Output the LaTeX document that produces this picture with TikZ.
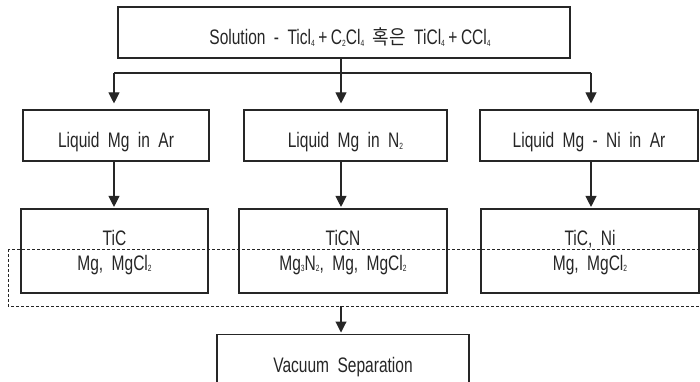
\documentclass[tikz,border=0pt]{standalone}
\usepackage{fontspec}
\setmainfont{Liberation Sans}[FakeStretch=0.74, WordSpace=1.95]
\newfontfamily\kr{Noto Sans CJK KR}[FakeStretch=0.9]
\usetikzlibrary{arrows.meta}
\newcommand\sbx[1]{\raisebox{-0.1ex}{\fontsize{9}{9}\selectfont #1}}
\definecolor{ink}{HTML}{262626}
\begin{document}
\begin{tikzpicture}[x=1pt,y=-1pt,
  box/.style={draw=ink, line width=1.1pt, inner sep=0pt},
  lbl/.style={text=ink, font=\fontsize{21}{24}\selectfont, inner sep=0pt, anchor=base},
  conn/.style={draw=ink, line width=1.1pt},
  arr/.style={conn, -{Triangle[length=11pt,width=11pt]}},
  dash box/.style={draw=ink, line width=1pt, dash pattern=on 3pt off 2pt}]
\clip (0,0) rectangle (700,382);
\useasboundingbox (0,0) rectangle (700,382);
% boxes
\node[box, minimum width=452pt, minimum height=51pt] (top) at (344,32.5) {};
\node[box, minimum width=186pt, minimum height=51pt] (a2) at (116,135.5) {};
\node[box, minimum width=203pt, minimum height=51pt] (b2) at (345.5,135.5) {};
\node[box, minimum width=218pt, minimum height=51pt] (c2) at (589,135.5) {};
\node[box, minimum width=187pt, minimum height=84pt] (a3) at (114.5,251) {};
\node[box, minimum width=208pt, minimum height=84pt] (b3) at (343,251) {};
\node[box, minimum width=218pt, minimum height=84pt] (c3) at (590,251) {};
\node[box, minimum width=252pt, minimum height=61pt, anchor=north] (vac) at (343,334) {};
% labels
\node[lbl] (topt) at (350,45)
  {Solution - Ticl\sbx{4}\,+\,C\sbx{2}Cl\sbx{4} {\kr\fontsize{20}{22}\selectfont 혹은} TiCl\sbx{4}\,+\,CCl\sbx{4}};
\node[lbl] (a2t) at (116,148) {Liquid Mg in Ar};
\node[lbl] (b2t) at (345.5,148) {Liquid Mg in N\sbx{2}};
\node[lbl] (c2t) at (589,148) {Liquid Mg - Ni in Ar};
\node[lbl] (a3t) at (114.5,245) {TiC};
\node[lbl] (a3b) at (114.5,270) {Mg, MgCl\sbx{2}};
\node[lbl] (b3t) at (343,245) {TiCN};
\node[lbl] (b3b) at (343,270) {Mg\sbx{3}N\sbx{2}, Mg, MgCl\sbx{2}};
\node[lbl] (c3t) at (590,245) {TiC, Ni};
\node[lbl] (c3b) at (590,270) {Mg, MgCl\sbx{2}};
\node[lbl] (vact) at (343,372) {Vacuum Separation};
% dashed group
\draw[dash box] (8,249) coordinate (dTL) rectangle (712,306) coordinate (dBR);
% connectors
\coordinate (jL) at (114,73);
\coordinate (jC) at (341,73);
\coordinate (jR) at (591,73);
\draw[conn] (jL) -- (jR);
\draw[conn] (top.south -| jC) -- (jC);
\draw[arr, shorten >=6pt] (jL) -- (jL |- a2.north);
\draw[arr, shorten >=6pt] (jC) -- (jC |- b2.north);
\draw[arr, shorten >=6pt] (jR) -- (jR |- c2.north);
\draw[arr, shorten >=1.5pt] (a2.south -| jL) -- (a3.north -| jL);
\draw[arr, shorten >=1.5pt] (b2.south -| jC) -- (b3.north -| jC);
\draw[arr, shorten >=1.5pt] (c2.south -| jR) -- (c3.north -| jR);
\coordinate (dB) at (341,306);
\draw[arr, shorten >=1.5pt] (dB) -- (vac.north -| dB);
\end{tikzpicture}
\end{document}
